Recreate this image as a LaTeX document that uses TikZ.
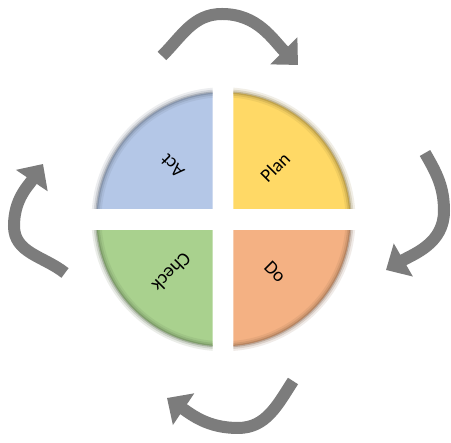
\documentclass[tikz,border=0pt]{standalone}
\usepackage{fontspec}
\setmainfont{Carlito}
\usetikzlibrary{arrows.meta}
\definecolor{actc}{RGB}{180,199,231}
\definecolor{planc}{RGB}{255,217,102}
\definecolor{checkc}{RGB}{169,209,142}
\definecolor{doc}{RGB}{244,177,131}
\definecolor{arrowc}{RGB}{124,124,124}
\newcommand\pdcaquad[5]{%
  \begin{scope}
    \clip (#2,#3) rectangle (#4,#5);
    \fill[#1] (O) circle (127);
    \draw[#1!55!black, line width=10pt, opacity=0.12] (O) circle (127);
    \draw[#1!55!black, line width=6pt, opacity=0.2] (O) circle (127);
    \draw[#1!55!black, line width=2.5pt, opacity=0.35] (O) circle (127);
  \end{scope}}
\begin{document}
\begin{tikzpicture}[x=1pt,y=1pt,
  cyc/.style={line width=12pt, draw=arrowc, -{Triangle[length=20pt,width=37pt]}},
  lbl/.style={font=\fontsize{19}{19}\selectfont, text=black, inner sep=0pt}]
\useasboundingbox[fill=white] (0,0) rectangle (451,443);
\coordinate (O) at (223.5,223.7);
% quadrants
\pdcaquad{actc}{90}{234.7}{212.7}{360}
\pdcaquad{planc}{233.3}{234.7}{360}{360}
\pdcaquad{checkc}{90}{80}{212.7}{212.3}
\pdcaquad{doc}{233.3}{80}{360}{212.3}
% labels
\node[lbl, rotate=135] (act) at (172.5,277.2) {Act};
\node[lbl, rotate=45] (plan) at (275,275.5) {Plan};
\node[lbl, rotate=-45] (do) at (275,171.3) {Do};
\node[lbl, rotate=-135] (check) at (171.7,170.5) {Check};
% arrows
\coordinate (t0) at (162,387);
\coordinate (t1) at (222,429);
\coordinate (t2) at (298,378);
\draw[cyc] (t0) to[out=45,in=180] (t1) to[out=0,in=135] (t2);
\coordinate (r0) at (425,290);
\coordinate (r1) at (444,232);
\coordinate (r2) at (386,173);
\draw[cyc] (r0) to[out=-60,in=90] (r1) to[out=-90,in=30] (r2);
\coordinate (b0) at (293,62);
\coordinate (b1) at (238,15);
\coordinate (b2) at (167,45);
\draw[cyc] (b0) to[out=-123,in=0] (b1) to[out=180,in=-34] (b2);
\coordinate (l0) at (65,170);
\coordinate (l1) at (14,217);
\coordinate (l2) at (43,279);
\draw[cyc] (l0) to[out=141.5,in=-90] (l1) to[out=90,in=-124] (l2);
\end{tikzpicture}
\end{document}
